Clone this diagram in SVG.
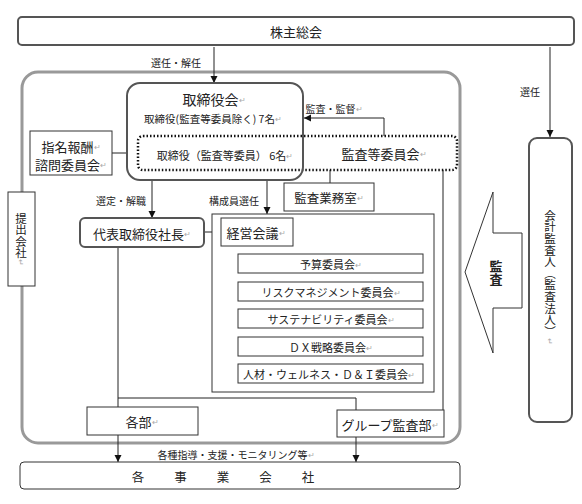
<svg xmlns="http://www.w3.org/2000/svg" width="582" height="504" viewBox="0 0 582 504">
<style>
text{font-family:"Noto Sans CJK JP","Noto Sans",sans-serif;fill:#222;text-anchor:middle;dominant-baseline:central}
.rb{fill:#fff;stroke:#555;stroke-width:2}
.bx{fill:#fff;stroke:#333;stroke-width:1}
.ln{fill:none;stroke:#222;stroke-width:1}
.rm{fill:#aaa;font-size:8px}
.t13{font-size:13px}
.t11{font-size:11px}
.lb{font-size:10px}
.vt{writing-mode:vertical-rl;text-orientation:mixed;dominant-baseline:auto}
</style>
<defs>
<marker id="ah" markerWidth="8" markerHeight="8" refX="7" refY="4" orient="auto" markerUnits="userSpaceOnUse">
<path d="M0,0.5 L7,4 L0,7.5 Z" fill="#111"/>
</marker>
</defs>
<rect width="582" height="504" fill="#fff"/>

<g id="outer">
<rect x="22" y="72" width="438" height="371" rx="16" fill="none" stroke="#999" stroke-width="3"/>
</g>

<g id="connectors">
<line class="ln" x1="214" y1="47" x2="214" y2="83" marker-end="url(#ah)"/>
<line class="ln" x1="550" y1="47" x2="550" y2="137" marker-end="url(#ah)"/>
<polyline class="ln" points="384,136 384,118 304,118" marker-end="url(#ah)"/>
<line class="ln" x1="112" y1="153" x2="127" y2="153"/>
<line class="ln" x1="152" y1="181" x2="152" y2="218" marker-end="url(#ah)"/>
<line class="ln" x1="267" y1="181" x2="267" y2="214" marker-end="url(#ah)"/>
<line class="ln" x1="330" y1="170" x2="330" y2="183"/>
<line class="ln" x1="204" y1="232" x2="221" y2="232"/>
<polyline class="ln" points="225,246 225,373.5 238,373.5"/>
<line class="ln" x1="225" y1="263.5" x2="238" y2="263.5"/>
<line class="ln" x1="225" y1="291.5" x2="238" y2="291.5"/>
<line class="ln" x1="225" y1="318.5" x2="238" y2="318.5"/>
<line class="ln" x1="225" y1="346.5" x2="238" y2="346.5"/>
<line class="ln" x1="118" y1="248" x2="118" y2="407"/>
<polyline class="ln" points="118,398 356,398 356,410"/>
<line class="ln" x1="443" y1="170" x2="443" y2="410"/>
<line class="ln" x1="118" y1="435" x2="118" y2="462" marker-end="url(#ah)"/>
<line class="ln" x1="356" y1="437" x2="356" y2="462" marker-end="url(#ah)"/>
<text class="lb" x="176" y="62">選任・解任</text>
<text class="lb" x="530" y="91">選任</text>
<text class="lb" x="334" y="108">監査・監督<tspan class="rm">↵</tspan></text>
<text class="lb" x="121" y="200">選定・解職</text>
<text class="lb" x="234" y="200">構成員選任</text>
<text class="lb" x="236" y="454">各種指導・支援・モニタリング等<tspan class="rm">↵</tspan></text>
</g>

<g id="kabunushi">
<rect class="rb" x="18" y="17" width="556" height="28" rx="4"/>
<text class="t13" x="296" y="31">株主総会</text>
</g>

<g id="kansa-iinkai">
<rect x="138" y="136" width="319" height="34" rx="5" fill="none" stroke="#111" stroke-width="2.5" stroke-dasharray="1.5 2"/>
<text class="t11" x="225" y="155">取締役（監査等委員） 6名<tspan class="rm">↵</tspan></text>
<text class="t13" x="384" y="153">監査等委員会<tspan class="rm">↵</tspan></text>
</g>

<g id="torishimariyakukai">
<rect x="127" y="83" width="176" height="97" rx="13" fill="none" stroke="#555" stroke-width="2"/>
<text x="214" y="99" font-size="14">取締役会<tspan class="rm">↵</tspan></text>
<text x="213" y="118" font-size="10.5">取締役(監査等委員除く) 7名<tspan class="rm">↵</tspan></text>
</g>

<g id="shimei">
<rect class="bx" x="30" y="131" width="82" height="44"/>
<text class="t13" x="71" y="146">指名報酬<tspan class="rm">↵</tspan></text>
<text class="t13" x="71" y="164">諮問委員会<tspan class="rm">↵</tspan></text>
</g>

<g id="teishutsu">
<rect class="bx" x="8" y="192" width="27" height="94"/>
<text class="vt" x="21" y="239" font-size="11.5">提出会社<tspan class="rm">↵</tspan></text>
</g>

<g id="kansa-gyomu">
<rect class="bx" x="284" y="183" width="90" height="28"/>
<text x="329" y="197" font-size="12.5">監査業務室<tspan class="rm">↵</tspan></text>
</g>

<g id="daihyo">
<rect class="rb" x="80" y="218" width="124" height="29" rx="5"/>
<text class="t13" x="142" y="233">代表取締役社長<tspan class="rm">↵</tspan></text>
</g>

<g id="keiei-group">
<rect class="bx" x="212" y="214" width="222" height="178"/>
</g>

<g id="keiei">
<rect class="bx" x="221" y="218" width="72" height="28"/>
<text class="t13" x="256" y="232">経営会議<tspan class="rm">↵</tspan></text>
</g>

<g id="yosan">
<rect class="bx" x="238" y="254" width="185" height="19"/>
<text class="t11" x="331" y="264">予算委員会<tspan class="rm">↵</tspan></text>
</g>
<g id="risk">
<rect class="bx" x="238" y="282" width="185" height="19"/>
<text class="t11" x="331" y="292">リスクマネジメント委員会<tspan class="rm">↵</tspan></text>
</g>
<g id="sustain">
<rect class="bx" x="238" y="309" width="185" height="19"/>
<text class="t11" x="331" y="319">サステナビリティ委員会<tspan class="rm">↵</tspan></text>
</g>
<g id="dx">
<rect class="bx" x="238" y="337" width="185" height="19"/>
<text class="t11" x="331" y="347">ＤＸ戦略委員会<tspan class="rm">↵</tspan></text>
</g>
<g id="jinzai">
<rect class="bx" x="238" y="364" width="185" height="19"/>
<text class="t11" x="329" y="374">人材・ウェルネス・Ｄ＆Ｉ委員会<tspan class="rm">↵</tspan></text>
</g>

<g id="kakubu">
<rect class="bx" x="87" y="407" width="111" height="28"/>
<text class="t13" x="142" y="421">各部<tspan class="rm">↵</tspan></text>
</g>

<g id="group-kansa">
<rect class="bx" x="337" y="410" width="107" height="27"/>
<text class="t13" x="390" y="424">グループ監査部<tspan class="rm">↵</tspan></text>
</g>

<g id="kaikei">
<rect class="rb" x="529" y="138" width="43" height="284" rx="8"/>
<text class="vt" x="550" y="277" font-size="11.6">会計監査人（監査法人）<tspan class="rm">↵</tspan></text>
</g>

<g id="kansa-arrow">
<polygon points="465,272 493,192 493,233 522,233 522,308 493,308 493,353" fill="#fff" stroke="#333" stroke-width="1"/>
<text class="vt" x="496" y="273" font-size="13" font-weight="600">監査</text>
</g>

<g id="jigyo">
<rect x="20" y="462" width="440" height="27" rx="4" fill="#fff" stroke="#333" stroke-width="1"/>
<text x="238" y="476" font-size="12.5" letter-spacing="30">各事業会社</text>
</g>
</svg>
